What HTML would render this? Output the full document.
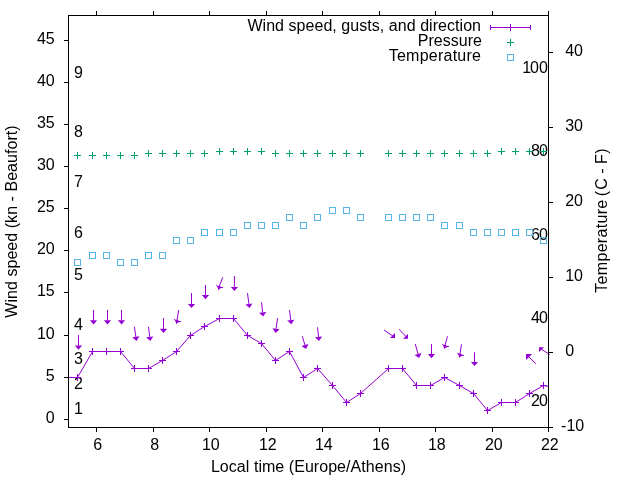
<!DOCTYPE html>
<html><head><meta charset="utf-8"><title>Wind plot</title>
<style>html,body{margin:0;padding:0;background:#fff}body{width:640px;height:480px;overflow:hidden}</style></head>
<body>
<svg width="640" height="480" viewBox="0 0 640 480" style="display:block">
<rect width="640" height="480" fill="#fff"/>
<defs><clipPath id="c"><rect x="68.5" y="15.5" width="480" height="412"/></clipPath></defs>
<path d="M68.5 419.5h-4.5M68.5 377.5h-4.5M68.5 335.5h-4.5M68.5 292.5h-4.5M68.5 250.5h-4.5M68.5 208.5h-4.5M68.5 166.5h-4.5M68.5 124.5h-4.5M68.5 82.5h-4.5M68.5 40.5h-4.5M548.5 427.5h4.5M548.5 352.5h4.5M548.5 277.5h4.5M548.5 202.5h4.5M548.5 127.5h4.5M548.5 52.5h4.5M96.5 427.5v4.5M96.5 15.5v-4.5M153.5 427.5v4.5M153.5 15.5v-4.5M209.5 427.5v4.5M209.5 15.5v-4.5M266.5 427.5v4.5M266.5 15.5v-4.5M322.5 427.5v4.5M322.5 15.5v-4.5M379.5 427.5v4.5M379.5 15.5v-4.5M435.5 427.5v4.5M435.5 15.5v-4.5M492.5 427.5v4.5M492.5 15.5v-4.5M548.5 427.5v4.5M548.5 15.5v-4.5" stroke="#000" stroke-width="1" fill="none"/>
<g font-family="Liberation Sans, sans-serif" font-size="16" fill="#000">
<text x="54.7" y="423.0" text-anchor="end">0</text>
<text x="54.7" y="381.0" text-anchor="end">5</text>
<text x="54.7" y="339.0" text-anchor="end">10</text>
<text x="54.7" y="296.0" text-anchor="end">15</text>
<text x="54.7" y="254.0" text-anchor="end">20</text>
<text x="54.7" y="212.0" text-anchor="end">25</text>
<text x="54.7" y="170.0" text-anchor="end">30</text>
<text x="54.7" y="128.0" text-anchor="end">35</text>
<text x="54.7" y="86.0" text-anchor="end">40</text>
<text x="54.7" y="44.0" text-anchor="end">45</text>
<text x="561.1" y="431.0">-10</text>
<text x="565.2" y="356.0">0</text>
<text x="565.2" y="281.0">10</text>
<text x="565.2" y="206.0">20</text>
<text x="565.2" y="131.0">30</text>
<text x="565.2" y="56.0">40</text>
<text x="97.8" y="450" text-anchor="middle">6</text>
<text x="154.8" y="450" text-anchor="middle">8</text>
<text x="210.8" y="450" text-anchor="middle">10</text>
<text x="267.8" y="450" text-anchor="middle">12</text>
<text x="323.8" y="450" text-anchor="middle">14</text>
<text x="380.8" y="450" text-anchor="middle">16</text>
<text x="436.8" y="450" text-anchor="middle">18</text>
<text x="493.8" y="450" text-anchor="middle">20</text>
<text x="549.8" y="450" text-anchor="middle">22</text>
<text x="210.9" y="472" textLength="195.1">Local time (Europe/Athens)</text>
<text transform="translate(17,317.7) rotate(-90)" textLength="192.3">Wind speed (kn - Beaufort)</text>
<text transform="translate(607,292.7) rotate(-90)" textLength="92.9">Temperature</text>
<text transform="translate(607,195.1) rotate(-90)" x="-1.2 5.33 16.88 21.33 26.66 31.1 41.3">(C - F)</text>
</g>
<g font-family="Liberation Sans, sans-serif" font-size="16" fill="#000" text-anchor="end">
<text x="481" y="31" textLength="233.6">Wind speed, gusts, and direction</text>
<text x="481.9" y="46">Pressure</text>
<text x="481" y="61" textLength="92.3">Temperature</text>
</g>
<path d="M490.5 27.5h40M490.5 25v5M530.5 25v5M510.5 24v7M507 27.5h7" stroke="#9400d3" fill="none"/>
<path d="M507 42.5h7M510.5 39v7" stroke="#009e73" fill="none"/>
<rect x="507.5" y="54.5" width="6" height="6" stroke="#56b4e9" fill="none"/>
<g font-family="Liberation Sans, sans-serif" font-size="16" fill="#000">
<text x="74" y="414.0">1</text>
<text x="74" y="389.0">2</text>
<text x="74" y="364.0">3</text>
<text x="74" y="330.0">4</text>
<text x="74" y="280.0">5</text>
<text x="74" y="238.0">6</text>
<text x="74" y="187.0">7</text>
<text x="74" y="137.0">8</text>
<text x="74" y="78.0">9</text>
<text x="531.05 538.9" y="405.55">20</text>
<text x="531.05 538.9" y="322.55">40</text>
<text x="531.05 538.9" y="239.55">60</text>
<text x="531.05 538.9" y="155.55">80</text>
<text x="522.2 530.1 539.1" y="72.55">100</text>
</g>
<g clip-path="url(#c)">
<polyline points="68.5,377.5 77.5,377.5 92.5,351.5 106.5,351.5 120.5,351.5 134.5,368.5 148.5,368.5 162.5,360.5 176.5,351.5 190.5,335.5 204.5,326.5 219.5,318.5 233.5,318.5 247.5,335.5 261.5,343.5 275.5,360.5 289.5,351.5 303.5,377.5 317.5,368.5 332.5,385.5 346.5,402.5 360.5,393.5 388.5,368.5 402.5,368.5 416.5,385.5 430.5,385.5 444.5,377.5 459.5,385.5 473.5,393.5 487.5,410.5 501.5,402.5 515.5,402.5 529.5,393.5 543.5,385.5 585.5,393.5" stroke="#9400d3" fill="none" stroke-width="1"/>
<path d="M74.0 377.5h7M77.5 374.0v7M89.0 351.5h7M92.5 348.0v7M103.0 351.5h7M106.5 348.0v7M117.0 351.5h7M120.5 348.0v7M131.0 368.5h7M134.5 365.0v7M145.0 368.5h7M148.5 365.0v7M159.0 360.5h7M162.5 357.0v7M173.0 351.5h7M176.5 348.0v7M187.0 335.5h7M190.5 332.0v7M201.0 326.5h7M204.5 323.0v7M216.0 318.5h7M219.5 315.0v7M230.0 318.5h7M233.5 315.0v7M244.0 335.5h7M247.5 332.0v7M258.0 343.5h7M261.5 340.0v7M272.0 360.5h7M275.5 357.0v7M286.0 351.5h7M289.5 348.0v7M300.0 377.5h7M303.5 374.0v7M314.0 368.5h7M317.5 365.0v7M329.0 385.5h7M332.5 382.0v7M343.0 402.5h7M346.5 399.0v7M357.0 393.5h7M360.5 390.0v7M385.0 368.5h7M388.5 365.0v7M399.0 368.5h7M402.5 365.0v7M413.0 385.5h7M416.5 382.0v7M427.0 385.5h7M430.5 382.0v7M441.0 377.5h7M444.5 374.0v7M456.0 385.5h7M459.5 382.0v7M470.0 393.5h7M473.5 390.0v7M484.0 410.5h7M487.5 407.0v7M498.0 402.5h7M501.5 399.0v7M512.0 402.5h7M515.5 399.0v7M526.0 393.5h7M529.5 390.0v7M540.0 385.5h7M543.5 382.0v7" stroke="#9400d3" fill="none"/>
<path d="M78.5 335L78.50 345.50" stroke="#9400d3" fill="none"/><path d="M78.50 349.70L74.90 345.50L82.10 345.50Z" fill="#9400d3"/>
<path d="M93.5 310L93.50 320.30" stroke="#9400d3" fill="none"/><path d="M93.50 324.50L89.90 320.30L97.10 320.30Z" fill="#9400d3"/>
<path d="M107.5 310L107.50 320.30" stroke="#9400d3" fill="none"/><path d="M107.50 324.50L103.90 320.30L111.10 320.30Z" fill="#9400d3"/>
<path d="M121.5 310L121.50 320.30" stroke="#9400d3" fill="none"/><path d="M121.50 324.50L117.90 320.30L125.10 320.30Z" fill="#9400d3"/>
<path d="M134.4 326.9L135.86 336.84" stroke="#9400d3" fill="none"/><path d="M136.47 340.99L132.30 337.36L139.42 336.32Z" fill="#9400d3"/>
<path d="M148.5 326.9L149.74 336.83" stroke="#9400d3" fill="none"/><path d="M150.26 341.00L146.17 337.28L153.31 336.38Z" fill="#9400d3"/>
<path d="M163.5 318.1L163.50 328.80" stroke="#9400d3" fill="none"/><path d="M163.50 333.00L159.90 328.80L167.10 328.80Z" fill="#9400d3"/>
<path d="M178.75 310L176.75 321.25L176.4 323.75M181.00 321.60L176.75 321.25L174.20 319.30" stroke="#9400d3" fill="none"/><path d="M176.40 323.45L179.60 321.75L177.45 319.65L174.80 320.05Z" fill="#9400d3"/>
<path d="M191.5 293.1L191.50 303.90" stroke="#9400d3" fill="none"/><path d="M191.50 308.10L187.90 303.90L195.10 303.90Z" fill="#9400d3"/>
<path d="M205.5 285L205.50 295.05" stroke="#9400d3" fill="none"/><path d="M205.50 299.25L201.90 295.05L209.10 295.05Z" fill="#9400d3"/>
<path d="M222.75 277.25L218.85 287.25L218.5 289.75M223.10 287.60L218.85 287.25L216.30 285.30" stroke="#9400d3" fill="none"/><path d="M218.50 289.45L221.70 287.75L219.55 285.65L216.90 286.05Z" fill="#9400d3"/>
<path d="M234.4 276L234.40 286.90" stroke="#9400d3" fill="none"/><path d="M234.40 291.10L230.80 286.90L238.00 286.90Z" fill="#9400d3"/>
<path d="M247.5 293.1L248.92 303.93" stroke="#9400d3" fill="none"/><path d="M249.46 308.10L245.35 304.40L252.49 303.46Z" fill="#9400d3"/>
<path d="M261.5 302.25L262.67 312.32" stroke="#9400d3" fill="none"/><path d="M263.16 316.50L259.10 312.74L266.25 311.91Z" fill="#9400d3"/>
<path d="M277.5 318.1L276.08 328.83" stroke="#9400d3" fill="none"/><path d="M275.53 333.00L272.51 328.36L279.65 329.30Z" fill="#9400d3"/>
<path d="M289.5 310L290.78 320.08" stroke="#9400d3" fill="none"/><path d="M291.31 324.25L287.21 320.53L294.35 319.63Z" fill="#9400d3"/>
<path d="M302.25 336.25L304.92 344.96" stroke="#9400d3" fill="none"/><path d="M306.15 348.98L301.47 346.02L308.36 343.91Z" fill="#9400d3"/>
<path d="M317.5 327.25L318.59 336.92" stroke="#9400d3" fill="none"/><path d="M319.06 341.10L315.01 337.33L322.16 336.52Z" fill="#9400d3"/>
<path d="M384 330L392.8 336" stroke="#9400d3" fill="none"/><path d="M395 338L395 333L390 338Z" fill="#9400d3"/>
<path d="M399.1 329.25L405.8 336.4" stroke="#9400d3" fill="none"/><path d="M408 338.8L408 333.9L403 338.8Z" fill="#9400d3"/>
<path d="M415.25 344L418.01 353.93" stroke="#9400d3" fill="none"/><path d="M419.13 357.98L414.54 354.90L421.48 352.97Z" fill="#9400d3"/>
<path d="M431.5 344L431.50 354.05" stroke="#9400d3" fill="none"/><path d="M431.50 358.25L427.90 354.05L435.10 354.05Z" fill="#9400d3"/>
<path d="M447.5 336.25L444.75 346.25L444.4 348.75M449.00 346.60L444.75 346.25L442.20 344.30" stroke="#9400d3" fill="none"/><path d="M444.40 348.45L447.60 346.75L445.45 344.65L442.80 345.05Z" fill="#9400d3"/>
<path d="M461.5 344.4L459.75 355.00L459.4 357.5M464.00 355.35L459.75 355.00L457.20 353.05" stroke="#9400d3" fill="none"/><path d="M459.40 357.20L462.60 355.50L460.45 353.40L457.80 353.80Z" fill="#9400d3"/>
<path d="M474.5 352.25L474.50 361.90" stroke="#9400d3" fill="none"/><path d="M474.50 366.10L470.90 361.90L478.10 361.90Z" fill="#9400d3"/>
<path d="M536 363.75L528.2 356.3" stroke="#9400d3" fill="none"/><path d="M526 354L532 354L526 360Z" fill="#9400d3"/>
<path d="M74.0 155.5h7M77.5 152.0v7M89.0 155.5h7M92.5 152.0v7M103.0 155.5h7M106.5 152.0v7M117.0 155.5h7M120.5 152.0v7M131.0 155.5h7M134.5 152.0v7M145.0 153.5h7M148.5 150.0v7M159.0 153.5h7M162.5 150.0v7M173.0 153.5h7M176.5 150.0v7M187.0 153.5h7M190.5 150.0v7M201.0 153.5h7M204.5 150.0v7M216.0 151.5h7M219.5 148.0v7M230.0 151.5h7M233.5 148.0v7M244.0 151.5h7M247.5 148.0v7M258.0 151.5h7M261.5 148.0v7M272.0 153.5h7M275.5 150.0v7M286.0 153.5h7M289.5 150.0v7M300.0 153.5h7M303.5 150.0v7M314.0 153.5h7M317.5 150.0v7M329.0 153.5h7M332.5 150.0v7M343.0 153.5h7M346.5 150.0v7M357.0 153.5h7M360.5 150.0v7M385.0 153.5h7M388.5 150.0v7M399.0 153.5h7M402.5 150.0v7M413.0 153.5h7M416.5 150.0v7M427.0 153.5h7M430.5 150.0v7M441.0 153.5h7M444.5 150.0v7M456.0 153.5h7M459.5 150.0v7M470.0 153.5h7M473.5 150.0v7M484.0 153.5h7M487.5 150.0v7M498.0 151.5h7M501.5 148.0v7M512.0 151.5h7M515.5 148.0v7M526.0 151.5h7M529.5 148.0v7M540.0 151.5h7M543.5 148.0v7" stroke="#009e73" fill="none"/>
<rect x="74.5" y="259.5" width="6" height="6" stroke="#56b4e9" fill="none"/>
<rect x="89.5" y="252.5" width="6" height="6" stroke="#56b4e9" fill="none"/>
<rect x="103.5" y="252.5" width="6" height="6" stroke="#56b4e9" fill="none"/>
<rect x="117.5" y="259.5" width="6" height="6" stroke="#56b4e9" fill="none"/>
<rect x="131.5" y="259.5" width="6" height="6" stroke="#56b4e9" fill="none"/>
<rect x="145.5" y="252.5" width="6" height="6" stroke="#56b4e9" fill="none"/>
<rect x="159.5" y="252.5" width="6" height="6" stroke="#56b4e9" fill="none"/>
<rect x="173.5" y="237.5" width="6" height="6" stroke="#56b4e9" fill="none"/>
<rect x="187.5" y="237.5" width="6" height="6" stroke="#56b4e9" fill="none"/>
<rect x="201.5" y="229.5" width="6" height="6" stroke="#56b4e9" fill="none"/>
<rect x="216.5" y="229.5" width="6" height="6" stroke="#56b4e9" fill="none"/>
<rect x="230.5" y="229.5" width="6" height="6" stroke="#56b4e9" fill="none"/>
<rect x="244.5" y="222.5" width="6" height="6" stroke="#56b4e9" fill="none"/>
<rect x="258.5" y="222.5" width="6" height="6" stroke="#56b4e9" fill="none"/>
<rect x="272.5" y="222.5" width="6" height="6" stroke="#56b4e9" fill="none"/>
<rect x="286.5" y="214.5" width="6" height="6" stroke="#56b4e9" fill="none"/>
<rect x="300.5" y="222.5" width="6" height="6" stroke="#56b4e9" fill="none"/>
<rect x="314.5" y="214.5" width="6" height="6" stroke="#56b4e9" fill="none"/>
<rect x="329.5" y="207.5" width="6" height="6" stroke="#56b4e9" fill="none"/>
<rect x="343.5" y="207.5" width="6" height="6" stroke="#56b4e9" fill="none"/>
<rect x="357.5" y="214.5" width="6" height="6" stroke="#56b4e9" fill="none"/>
<rect x="385.5" y="214.5" width="6" height="6" stroke="#56b4e9" fill="none"/>
<rect x="399.5" y="214.5" width="6" height="6" stroke="#56b4e9" fill="none"/>
<rect x="413.5" y="214.5" width="6" height="6" stroke="#56b4e9" fill="none"/>
<rect x="427.5" y="214.5" width="6" height="6" stroke="#56b4e9" fill="none"/>
<rect x="441.5" y="222.5" width="6" height="6" stroke="#56b4e9" fill="none"/>
<rect x="456.5" y="222.5" width="6" height="6" stroke="#56b4e9" fill="none"/>
<rect x="470.5" y="229.5" width="6" height="6" stroke="#56b4e9" fill="none"/>
<rect x="484.5" y="229.5" width="6" height="6" stroke="#56b4e9" fill="none"/>
<rect x="498.5" y="229.5" width="6" height="6" stroke="#56b4e9" fill="none"/>
<rect x="512.5" y="229.5" width="6" height="6" stroke="#56b4e9" fill="none"/>
<rect x="526.5" y="229.5" width="6" height="6" stroke="#56b4e9" fill="none"/>
<rect x="540.5" y="237.5" width="6" height="6" stroke="#56b4e9" fill="none"/>
</g>
<path d="M549.8 354.6L541.2 349" stroke="#9400d3" fill="none"/><path d="M539 347.2L544 347.2L539 351.9Z" fill="#9400d3"/>
<rect x="68.5" y="15.5" width="480" height="412" fill="none" stroke="#000"/>
</svg>
</body></html>
